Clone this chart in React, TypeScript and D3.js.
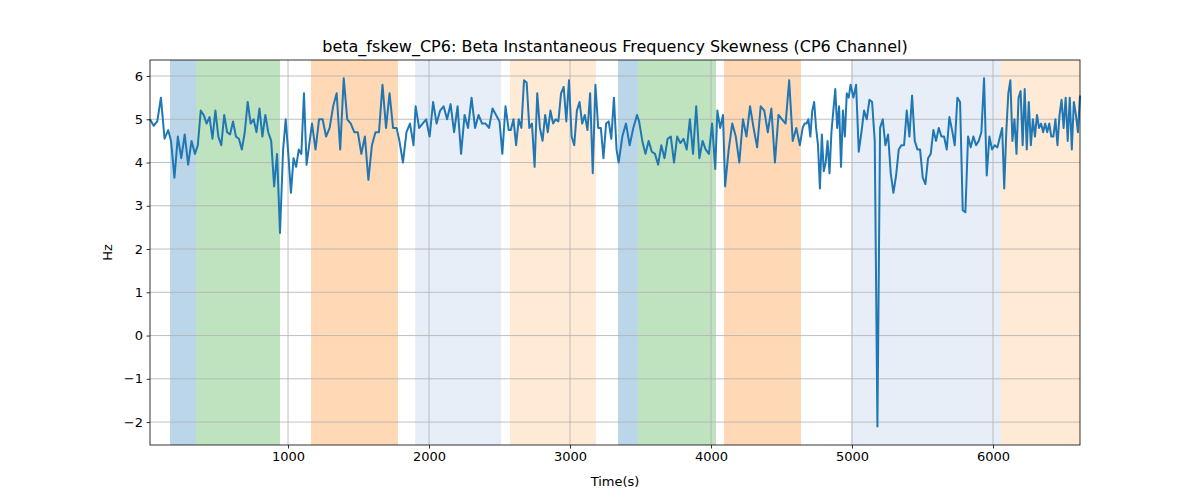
import React, { useRef, useEffect } from 'react';
import * as d3 from 'd3';

const T_START = 21;
const T_END = 6617;

// Values, grouped by stretch of time (first, last sample time)
const segTimes: [number, number][] = [
  [21, 150], [170, 340], [360, 943], [965, 1150], [1170, 1770], [1790, 1890],
  [1905, 2500], [2520, 2565], [2580, 3180], [3200, 3330], [3345, 3475], [3490, 4030],
  [4045, 4085], [4100, 4630], [4650, 4990], [5010, 6050], [6065, 6617],
];
const segValues: number[][] = [
  [5.0, 4.85, 4.95, 5.5, 4.55, 4.75],
  [4.5, 3.65, 4.6, 4.1, 4.65, 3.95, 4.5, 4.2],
  [4.4, 5.2, 5.1, 4.9, 5.05, 4.55, 5.2, 4.6, 4.4, 5.1, 4.7, 4.65, 4.95, 4.6, 4.55, 4.3, 4.7, 5.4, 4.9, 5.0, 4.7, 5.25, 4.6, 5.1, 4.7, 4.5, 3.45, 4.2, 2.37],
  [4.3, 5.0, 4.2, 3.3, 4.1, 3.9, 4.3, 4.2, 5.6, 3.95, 4.4],
  [4.9, 4.3, 5.0, 5.0, 4.6, 4.8, 5.3, 5.6, 4.3, 5.95, 5.0, 4.9, 4.7, 4.7, 4.2, 4.6, 3.6, 4.4, 4.7, 4.7, 5.8, 4.8, 5.6, 4.8, 4.8],
  [4.5, 4.0, 4.7, 4.9, 4.4],
  [5.3, 4.8, 4.9, 5.0, 4.6, 5.4, 4.9, 5.2, 5.3, 5.0, 5.35, 4.7, 5.3, 4.2, 5.1, 4.8, 5.5, 4.8, 5.1, 4.9, 4.9, 4.8, 5.25, 5.1, 4.95],
  [4.2, 5.3, 4.75],
  [4.75, 5.0, 4.4, 5.0, 4.8, 5.9, 5.85, 4.8, 4.9, 3.9, 5.6, 4.8, 4.5, 5.1, 4.7, 5.2, 4.9, 5.0, 4.95, 5.6, 5.75, 4.95, 5.9, 4.6, 4.4, 5.2, 5.4, 4.9, 5.1, 4.75, 5.6, 3.75, 5.8],
  [4.8, 4.8, 4.1, 4.9, 4.95, 4.55, 5.5, 4.3],
  [4.0, 4.6, 4.9, 4.4, 4.8, 5.1],
  [4.95, 4.5, 4.2, 4.5, 4.25, 4.2, 3.95, 4.4, 4.1, 4.55, 4.6, 4.0, 4.6, 4.45, 4.55, 4.3, 5.0, 4.2, 5.3, 4.1, 4.5, 4.3, 4.2, 4.9, 3.85],
  [5.2, 4.8, 5.1],
  [3.45, 4.3, 4.9, 4.6, 4.0, 5.0, 4.6, 5.3, 4.8, 4.35, 5.3, 5.2, 4.7, 5.25, 4.0, 5.1, 5.0, 4.9, 5.9, 4.5, 4.8, 4.4],
  [4.8, 4.9, 4.9, 5.0, 4.6, 5.2, 5.4, 4.8, 4.4, 3.4, 4.65, 3.8, 4.0, 4.5, 3.75, 4.7, 5.2, 5.7, 4.8, 5.3, 3.9, 5.2, 4.6, 5.6, 5.5, 5.8],
  [5.5, 5.8, 4.25, 4.7, 5.2, 5.0, 5.45, 5.4, 4.5, -2.1, 4.8, 5.0, 4.4, 4.65, 3.75, 3.3, 3.7, 4.3, 4.4, 4.4, 5.2, 4.6, 5.55, 4.5, 4.3, 4.3, 3.65, 3.5, 4.1, 4.2, 4.75, 4.5, 4.8, 4.6, 4.6, 4.3, 5.05, 4.75, 4.4, 5.5, 5.4, 2.9, 2.85, 4.6, 4.35, 4.6, 4.4, 4.5, 4.7, 5.95, 3.7, 4.6, 4.3, 4.4, 4.35, 4.6],
  [4.8, 3.4, 4.7, 5.6, 5.9, 4.5, 5.0, 4.2, 5.5, 5.65, 4.4, 5.7, 4.3, 5.4, 4.4, 5.0, 4.6, 5.1, 4.8, 4.9, 4.7, 4.9, 4.7, 4.9, 4.6, 4.6, 5.0, 4.4, 5.1, 5.45, 4.8, 5.5, 4.5, 5.5, 4.3, 5.4, 5.1, 4.7, 5.55],
];

const spanStarts = [163, 348, 1163, 1901, 2574, 3340, 3482, 4092, 4993, 6057];
const spanEnds = [348, 943, 1780, 2511, 3184, 3482, 4035, 4638, 6057, 6617];
const spanColors = ['#1f77b4', '#2ca02c', '#ff7f0e', '#aec7e8', '#ffbb78', '#1f77b4', '#2ca02c', '#ff7f0e', '#aec7e8', '#ffbb78'];

const xTicks = [1000, 2000, 3000, 4000, 5000, 6000];
const yTicks = [-2, -1, 0, 1, 2, 3, 4, 5, 6];

const App: React.FC = () => {
  const svgRef = useRef<SVGSVGElement>(null);

  useEffect(() => {
    const svg = d3.select(svgRef.current);
    svg.selectAll('*').remove();
    const m = { top: 60, right: 120, bottom: 55, left: 150 };
    const W = 1200, H = 500;
    const w = W - m.left - m.right;
    const h = H - m.top - m.bottom;
    const font = 'DejaVu Sans, sans-serif';

    const x = d3.scaleLinear().domain([T_START, T_END]).range([0, w]);
    const y = d3.scaleLinear().domain([-2.53, 6.37]).range([h, 0]);

    const points: [number, number][] = [];
    segValues.forEach((vals, s) => {
      const [t0, t1] = segTimes[s];
      const dt = vals.length > 1 ? (t1 - t0) / (vals.length - 1) : 0;
      vals.forEach((v, j) => points.push([t0 + j * dt, v]));
    });

    const g = svg.append('g').attr('transform', `translate(${m.left},${m.top})`);

    spanStarts.forEach((s, i) => {
      g.append('rect')
        .attr('x', x(s)).attr('y', 0)
        .attr('width', x(spanEnds[i]) - x(s)).attr('height', h)
        .attr('fill', spanColors[i]).attr('fill-opacity', 0.3);
    });

    g.append('g').selectAll('line').data(xTicks).enter().append('line')
      .attr('x1', d => x(d)).attr('x2', d => x(d)).attr('y1', 0).attr('y2', h)
      .attr('stroke', '#b0b0b0').attr('stroke-width', 0.8);
    g.append('g').selectAll('line').data(yTicks).enter().append('line')
      .attr('y1', d => y(d)).attr('y2', d => y(d)).attr('x1', 0).attr('x2', w)
      .attr('stroke', '#b0b0b0').attr('stroke-width', 0.8);

    g.append('path').datum(points)
      .attr('fill', 'none').attr('stroke', '#1f77b4').attr('stroke-width', 2)
      .attr('stroke-linejoin', 'round')
      .attr('d', d3.line<[number, number]>().x(d => x(d[0])).y(d => y(d[1])));

    const xa = g.append('g').attr('transform', `translate(0,${h})`)
      .call(d3.axisBottom(x).tickValues(xTicks).tickSize(3.5).tickPadding(3.5).tickFormat(d => `${d}`));
    const ya = g.append('g')
      .call(d3.axisLeft(y).tickValues(yTicks).tickSize(3.5).tickPadding(3.5).tickFormat(d => (d as number) < 0 ? `\u2212${Math.abs(d as number)}` : `${d}`));
    [xa, ya].forEach(a => {
      a.select('.domain').remove();
      a.selectAll('text').style('font-size', '13px').style('font-family', font).attr('fill', '#000');
      a.selectAll('line').attr('stroke', '#000').attr('stroke-width', 0.8);
    });

    g.append('rect').attr('width', w).attr('height', h)
      .attr('fill', 'none').attr('stroke', '#000').attr('stroke-width', 0.8);

    svg.append('text').attr('x', m.left + w / 2).attr('y', 52).attr('text-anchor', 'middle')
      .style('font-size', '16px').style('font-family', font)
      .text('beta_fskew_CP6: Beta Instantaneous Frequency Skewness (CP6 Channel)');
    svg.append('text').attr('x', m.left + w / 2).attr('y', 486).attr('text-anchor', 'middle')
      .style('font-size', '13px').style('font-family', font).text('Time(s)');
    svg.append('text').attr('transform', `translate(112,${m.top + h / 2}) rotate(-90)`).attr('text-anchor', 'middle')
      .style('font-size', '13px').style('font-family', font).text('Hz');
  }, []);

  return <svg ref={svgRef} width={1200} height={500} style={{ display: 'block', margin: -8 }} />;
};

export default App;
